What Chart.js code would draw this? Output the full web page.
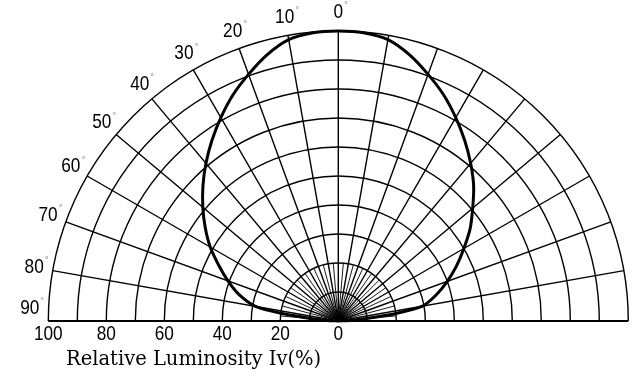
<!DOCTYPE html>
<html>
<head>
<meta charset="utf-8">
<script src="https://cdn.jsdelivr.net/npm/chart.js@4/dist/chart.umd.min.js"></script>
<style>
  html, body { margin: 0; padding: 0; background: #fff; }
  #wrap { width: 632px; height: 378px; }
</style>
</head>
<body>
<div id="wrap"><canvas id="chartPolar" width="632" height="378"></canvas></div>
<script>
// angle from the 0 deg axis (negative = left side), relative luminosity in %
const angles = [-90, -87.5, -85, -82.5, -80, -75, -70, -65, -60, -55, -50, -45, -40, -35, -30, -25, -20, -15, -10, -5,
    0, 5, 10, 15, 20, 25, 30, 35, 40, 45, 50, 55, 60, 65, 70, 75, 80, 82.5, 85, 87.5, 90];
const luminosity = [0, 4, 9, 19, 29, 35.5, 40.5, 45.5, 51, 56, 61, 66, 71, 76, 81, 86, 90.5, 95, 98.5, 99.8,
    100, 99.8, 98.5, 95, 90.5, 86, 81, 76, 71, 66, 60.5, 55.5, 50, 45, 40, 35, 29.5, 20, 9, 4, 0];

const rings = [10, 20, 30, 40, 50, 60, 70, 80, 90, 100];
const rayAngles = [-80, -70, -60, -50, -40, -30, -20, -10, 0, 10, 20, 30, 40, 50, 60, 70, 80];
const shortRayAngles = [-85, -75, -65, -55, -45, -35, -25, -15, -5, 5, 15, 25, 35, 45, 55, 65, 75, 85];
const angleLabels = [0, 10, 20, 30, 40, 50, 60, 70, 80, 90];
const axisLabels = [100, 80, 60, 40, 20, 0];
const axisTitle = 'Relative Luminosity Iv(%)';

const rad = a => a * Math.PI / 180;

const curve = angles.map((a, i) => ({
    x: luminosity[i] * Math.sin(rad(a)),
    y: luminosity[i] * Math.cos(rad(a))
}));

// narrow digits like the scanned sheet
function narrowText(ctx, t, x, y) {
    ctx.save();
    ctx.translate(x, y);
    ctx.scale(0.82, 1);
    ctx.fillText(t, 0, 0);
    ctx.restore();
}

const polarGrid = {
    id: 'polarGrid',
    beforeDatasetsDraw(chart) {
        const ctx = chart.ctx;
        const sx = chart.scales.x, sy = chart.scales.y;
        const cx = sx.getPixelForValue(0), cy = sy.getPixelForValue(0);
        const px = (r, a) => [sx.getPixelForValue(r * Math.sin(rad(a))), sy.getPixelForValue(r * Math.cos(rad(a)))];
        ctx.save();
        ctx.strokeStyle = '#000';
        ctx.lineWidth = 1.4;
        rings.forEach(r => {
            ctx.beginPath();
            ctx.arc(cx, cy, sx.getPixelForValue(r) - cx, Math.PI, 2 * Math.PI);
            ctx.stroke();
        });
        rayAngles.forEach(a => {
            const p = px(100, a);
            ctx.beginPath();
            ctx.moveTo(cx, cy);
            ctx.lineTo(p[0], p[1]);
            ctx.stroke();
        });
        ctx.lineWidth = 0.9;
        shortRayAngles.forEach(a => {
            const p = px(20, a);
            ctx.beginPath();
            ctx.moveTo(cx, cy);
            ctx.lineTo(p[0], p[1]);
            ctx.stroke();
        });
        // base line
        ctx.lineWidth = 2.2;
        ctx.beginPath();
        ctx.moveTo(sx.getPixelForValue(-100), cy);
        ctx.lineTo(sx.getPixelForValue(100), cy);
        ctx.stroke();

        // angle labels on the left
        ctx.fillStyle = '#000';
        ctx.textAlign = 'center';
        ctx.textBaseline = 'middle';
        const numFont = '21px "Liberation Sans", Arial, sans-serif';
        angleLabels.forEach(a => {
            const p = px(106.5, -Math.min(a, 87.6));
            ctx.font = numFont;
            const t = String(a);
            const w = ctx.measureText(t).width * 0.82;
            narrowText(ctx, t, p[0], p[1]);
            ctx.font = '8px "DejaVu Sans", sans-serif';
            ctx.fillStyle = '#888';
            ctx.fillText('°', p[0] + w / 2 + 3, p[1] - 6);
            ctx.fillStyle = '#000';
        });
        // value labels under the base line
        ctx.font = numFont;
        axisLabels.forEach(v => {
            narrowText(ctx, String(v), sx.getPixelForValue(-v), cy + 13);
        });
        ctx.font = '19.5px "DejaVu Serif", serif';
        ctx.textAlign = 'left';
        ctx.fillText(axisTitle, 66, cy + 39);
        ctx.restore();
    }
};

window.onload = function () {
    const ctx = document.getElementById('chartPolar').getContext('2d');
    new Chart(ctx, {
        type: 'scatter',
        data: {
            datasets: [{
                label: 'Relative Luminosity',
                data: curve,
                showLine: true,
                borderColor: '#000',
                borderWidth: 3,
                pointRadius: 0,
                tension: 0.25
            }]
        },
        options: {
            responsive: false,
            animation: false,
            layout: { padding: 0 },
            plugins: {
                legend: { display: false },
                tooltip: { enabled: false }
            },
            scales: {
                x: { type: 'linear', display: false, min: -116.66, max: 101.28 },
                y: { type: 'linear', display: false, min: -19.66, max: 110.69 }
            }
        },
        plugins: [polarGrid]
    });
}
</script>
</body>
</html>
